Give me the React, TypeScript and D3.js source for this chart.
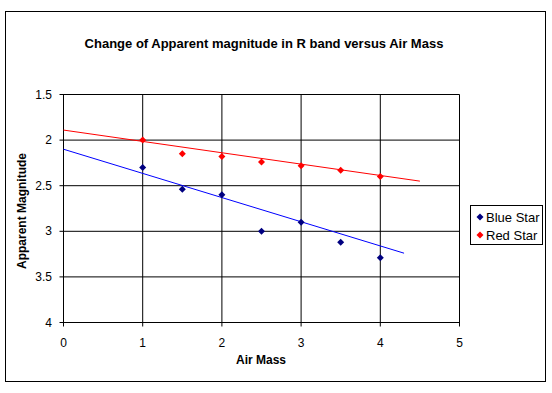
import * as d3 from "d3";
import { useEffect, useRef } from "react";

const airMass = [1, 1.5, 2, 2.5, 3, 3.5, 4];
const blueStar = [2.3, 2.54, 2.6, 3.0, 2.9, 3.12, 3.29];
const redStar = [2.0, 2.15, 2.18, 2.24, 2.28, 2.33, 2.4];

// trendline endpoints [airMass, magnitude]
const blueTrend: [number, number][] = [[0, 2.1], [4.3, 3.24]];
const redTrend: [number, number][] = [[0, 1.89], [4.5, 2.45]];

const xTicks = [0, 1, 2, 3, 4, 5];
const yTicks = [1.5, 2, 2.5, 3, 3.5, 4];

const series = [
  { name: "Blue Star", values: blueStar, trend: blueTrend, marker: "#000080", line: "#0000ff" },
  { name: "Red Star", values: redStar, trend: redTrend, marker: "#ff0000", line: "#ff0000" },
];

export default function App() {
  const ref = useRef<SVGSVGElement>(null);

  useEffect(() => {
    if (!ref.current) return;
    const svg = d3.select(ref.current);
    svg.selectAll("*").remove();

    const width = 552;
    const height = 393;
    const font = "Arial, 'Liberation Sans', sans-serif";

    const x = d3.scaleLinear().domain([0, 5]).range([63.5, 459.5]);
    const y = d3.scaleLinear().domain([1.5, 4]).range([94.5, 322.5]);

    svg.append("rect")
      .attr("x", 0).attr("y", 0).attr("width", width).attr("height", height)
      .attr("fill", "#fff");

    // chart frame
    svg.append("rect")
      .attr("x", 5.5).attr("y", 11.5).attr("width", 540).attr("height", 370)
      .attr("fill", "none").attr("stroke", "#000").attr("stroke-width", 1);

    svg.append("text")
      .attr("x", 264).attr("y", 48)
      .attr("text-anchor", "middle")
      .attr("font-family", font).attr("font-size", "13px").attr("font-weight", "bold")
      .text("Change of Apparent magnitude in R band versus Air Mass");

    const grid = svg.append("g").attr("stroke", "#000").attr("stroke-width", 1);

    yTicks.forEach(t => {
      grid.append("line")
        .attr("x1", x(0) - 4).attr("x2", x(5))
        .attr("y1", y(t)).attr("y2", y(t));
    });
    xTicks.forEach(t => {
      grid.append("line")
        .attr("x1", x(t)).attr("x2", x(t))
        .attr("y1", y(1.5)).attr("y2", y(4) + 4);
    });

    svg.append("g")
      .selectAll("text")
      .data(yTicks)
      .enter()
      .append("text")
      .attr("x", 52).attr("y", d => y(d) + 4)
      .attr("text-anchor", "end")
      .attr("font-family", font).attr("font-size", "12px")
      .text(d => d3.format("")(d));

    svg.append("g")
      .selectAll("text")
      .data(xTicks)
      .enter()
      .append("text")
      .attr("x", d => x(d)).attr("y", 347)
      .attr("text-anchor", "middle")
      .attr("font-family", font).attr("font-size", "12px")
      .text(d => d);

    svg.append("text")
      .attr("x", 261).attr("y", 364)
      .attr("text-anchor", "middle")
      .attr("font-family", font).attr("font-size", "12px").attr("font-weight", "bold")
      .text("Air Mass");

    svg.append("text")
      .attr("transform", "translate(26,211) rotate(-90)")
      .attr("text-anchor", "middle")
      .attr("font-family", font).attr("font-size", "12px").attr("font-weight", "bold")
      .text("Apparent Magnitude");

    const line = d3.line<[number, number]>().x(d => x(d[0])).y(d => y(d[1]));
    const r = 3.5;
    const diamond = `M0,${-r}L${r},0L0,${r}L${-r},0Z`;

    series.forEach(s => {
      svg.append("path")
        .attr("d", line(s.trend))
        .attr("fill", "none")
        .attr("stroke", s.line)
        .attr("stroke-width", 1);
    });

    series.forEach(s => {
      svg.append("g")
        .selectAll("path")
        .data(s.values)
        .enter()
        .append("path")
        .attr("d", diamond)
        .attr("transform", (d, i) => `translate(${x(airMass[i])},${y(d)})`)
        .attr("fill", s.marker);
    });

    const legend = svg.append("g");
    legend.append("rect")
      .attr("x", 470.5).attr("y", 205.5).attr("width", 72).attr("height", 39)
      .attr("fill", "#fff").attr("stroke", "#000");
    series.forEach((s, i) => {
      const yy = 217 + i * 18;
      legend.append("path")
        .attr("d", diamond)
        .attr("transform", `translate(480,${yy})`)
        .attr("fill", s.marker);
      legend.append("text")
        .attr("x", 486).attr("y", yy + 4.5)
        .attr("font-family", font).attr("font-size", "13px")
        .text(s.name);
    });
  }, []);

  return (
    <svg
      ref={ref}
      width={552}
      height={393}
      style={{ position: "absolute", left: 0, top: 0 }}
    />
  );
}
